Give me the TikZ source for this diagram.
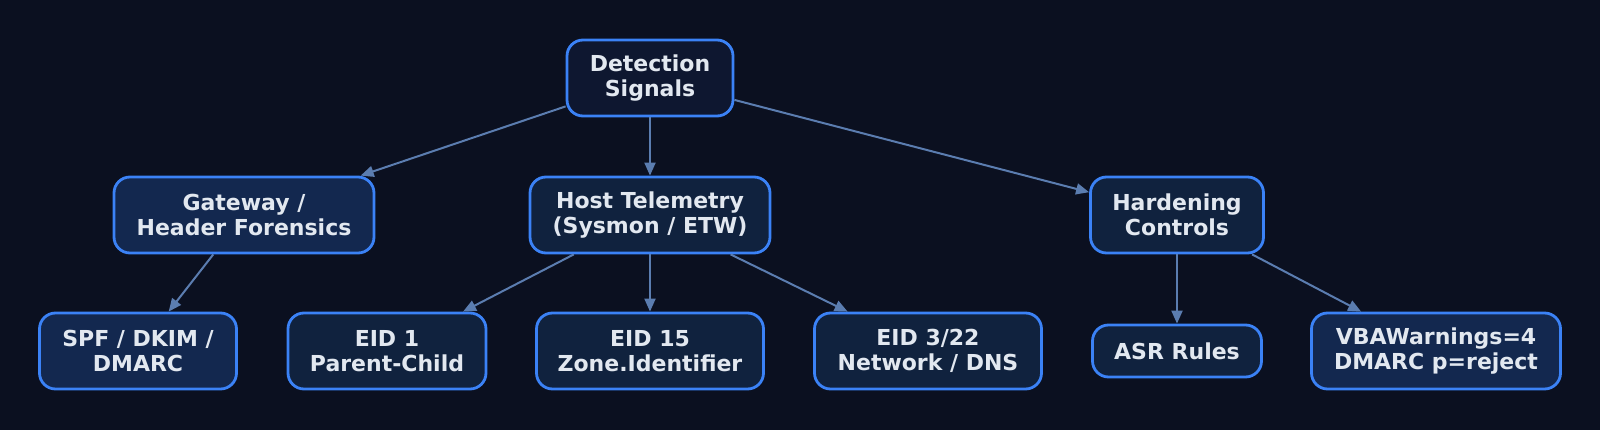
\documentclass[tikz,border=0pt]{standalone}
\usepackage{fontspec}
\setmainfont{DejaVu Sans}
\usepackage{xcolor}
\usetikzlibrary{arrows.meta, positioning}

\definecolor{bgdark}{HTML}{0B1020}
\definecolor{rootfill}{HTML}{0E1730}
\definecolor{mailfill}{HTML}{13284F}
\definecolor{hostfill}{HTML}{10223E}
\definecolor{rim}{HTML}{3B82F6}
\definecolor{wire}{HTML}{5B7DB0}
\definecolor{label}{HTML}{E2E8F0}

\begin{document}
\begin{tikzpicture}[
    x=1pt, y=-1pt,
    signal/.style={rectangle, draw=rim, line width=2.8pt, rounded corners=16pt, minimum height=76pt, align=center, text=label, font=\fontsize{22}{25.5}\selectfont\bfseries, inner sep=0pt},
    link/.style={draw=wire, line width=2pt, -{Triangle[length=13pt, width=11pt]}}
]
% Background
\fill[bgdark] (0,0) rectangle (1600,430);
\useasboundingbox (0,0) rectangle (1600,430);

% Top level
\node[signal, fill=rootfill, minimum width=166pt] (root) at (650,78) {Detection\\Signals};

% Second level
\node[signal, fill=mailfill, minimum width=260pt] (gateway) at (244,215) {Gateway /\\Header Forensics};
\node[signal, fill=hostfill, minimum width=240pt] (host) at (650,215) {Host Telemetry\\(Sysmon / ETW)};
\node[signal, fill=hostfill, minimum width=173pt] (harden) at (1177,215) {Hardening\\Controls};

% Leaves
\node[signal, fill=mailfill, minimum width=197pt] (spf) at (138,351) {SPF / DKIM /\\DMARC};
\node[signal, fill=hostfill, minimum width=198pt] (eid1) at (387,351) {EID 1\\Parent-Child};
\node[signal, fill=hostfill, minimum width=227pt] (eid15) at (650,351) {EID 15\\Zone.Identifier};
\node[signal, fill=hostfill, minimum width=227pt] (eid3) at (928,351) {EID 3/22\\Network / DNS};
\node[signal, fill=hostfill, minimum width=169pt, minimum height=52pt] (asr) at (1177,351) {ASR Rules};
\node[signal, fill=mailfill, minimum width=249pt] (vba) at (1436,351) {VBAWarnings=4\\DMARC p=reject};

% Connectors
\draw[link] (root) -- (gateway);
\draw[link] (root) -- (host);
\draw[link] (root) -- (harden);
\draw[link] (gateway) -- (spf);
\draw[link] (host) -- (eid1);
\draw[link] (host) -- (eid15);
\draw[link] (host) -- (eid3);
\draw[link] (harden) -- (asr);
\draw[link] (harden) -- (vba);
\end{tikzpicture}
\end{document}
